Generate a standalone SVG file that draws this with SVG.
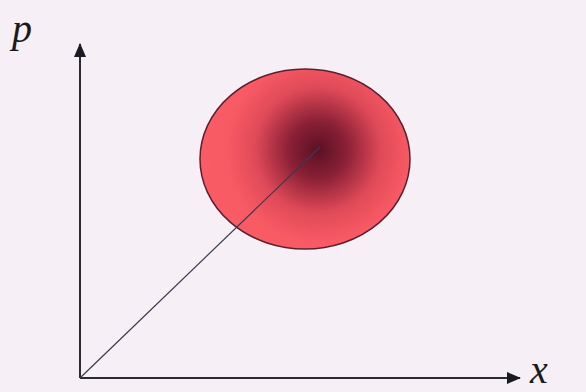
<svg xmlns="http://www.w3.org/2000/svg" width="586" height="392" viewBox="0 0 586 392">
<style>
.axis{stroke:#2a2a33;stroke-width:2;fill:none}
.lbl{font-family:"Liberation Serif",serif;font-style:italic;font-size:40px;fill:#1a1a1a}
</style>
<defs>
<radialGradient id="g" cx="318" cy="150" r="115" gradientUnits="userSpaceOnUse">
<stop offset="0" stop-color="#5a1024"/>
<stop offset="0.25" stop-color="#8a2036"/>
<stop offset="0.55" stop-color="#e04a58"/>
<stop offset="0.8" stop-color="#f85a64"/>
<stop offset="1" stop-color="#fa5c66"/>
</radialGradient>
<marker id="ah" markerWidth="14" markerHeight="12" refX="13" refY="6" orient="auto" markerUnits="userSpaceOnUse" viewBox="0 0 14 12">
<path d="M0,0 L14,6 L0,12 z" fill="#1a1a22"/>
</marker>
</defs>
<rect width="586" height="392" fill="#f6f0f6"/>
<g id="blob">
<ellipse cx="305" cy="159" rx="105" ry="90" fill="url(#g)" stroke="#5a2030" stroke-width="1.5"/>
</g>
<g id="connectors">
<line x1="80" y1="378" x2="80" y2="44" class="axis" marker-end="url(#ah)"/>
<line x1="80" y1="378" x2="520" y2="378" class="axis" marker-end="url(#ah)"/>
<line x1="80" y1="378" x2="320" y2="147" stroke="#3a3a50" stroke-width="1.2"/>
</g>
<g id="labels">
<text x="12" y="42" class="lbl">p</text>
<text x="530" y="383" class="lbl">x</text>
</g>
</svg>
